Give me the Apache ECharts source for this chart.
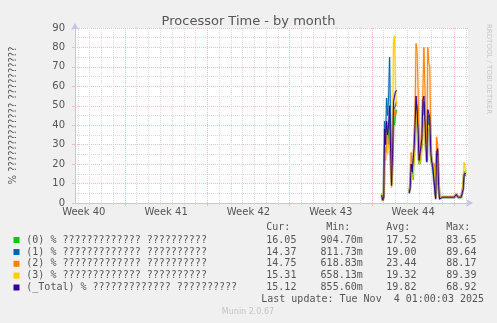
<!DOCTYPE html>
<html><head><meta charset="utf-8">
<script src="https://cdn.jsdelivr.net/npm/echarts@6/dist/echarts.min.js"></script>
<style>html,body{margin:0;padding:0;background:#f0f0f0;} #c{width:497px;height:323px;}</style>
</head><body><div id="c"></div>
<script>
// ---- data ----
const seriesNames = ['(0) % ????????????? ??????????', '(1) % ????????????? ??????????', '(2) % ????????????? ??????????', '(3) % ????????????? ??????????', '(_Total) % ????????????? ??????????'];
const seriesColors = ['#00cc00', '#0066b3', '#ff8000', '#ffcc00', '#330099'];
// sample times in hours since Mon of week 40, one sample each 2 hours from 692 to 864
const hourStart = 692, hourStep = 2;
const s0 = [5,2,4,30,26,40,30,35,45,25,10,20,45,40,45,48,
  null,null,null,null,null,null,null,null,null,null,null,null,
  5,8,18,14,12,25,35,50,45,30,22,20,21,30,45,50,48,30,22,40,42,40,25,20,19,19,18,3,20,25,10,3,
  3,3,3,3,3,3,3,3,3,3,3,3,3,3,3,3,4.5,4,3,3,3,3,3,8,16,16,16.05];
const s1 = [4,1,3,42,35,54,45,55,75,40,15,25,48,47,50,52,
  null,null,null,null,null,null,null,null,null,null,null,null,
  6,8,20,15,14,25,38,52,50,35,20,19,20,30,48,52,50,28,22,42,45,44,28,20,18,18,17,3,22,27,8,3,
  2.8,2.8,2.8,2.8,2.8,2.8,2.8,2.8,2.8,2.8,2.8,2.8,2.8,2.8,2.8,2.8,4,4,2.8,2.8,2.8,2.8,2.8,7,14,14.5,14.37];
const s2 = [3,1,3,25,22,35,28,30,38,22,8,22,50,45,48,46,
  null,null,null,null,null,null,null,null,null,null,null,null,
  6,10,26,20,22,32,47,82,78,60,35,23,22,40,58,80,80,40,28,80,72,70,35,21,20,20,20,3,34,30,12,2,
  3.2,3.2,3.2,3.2,3.2,3.2,3.2,3.2,3.2,3.2,3.2,3.2,3.2,3.2,3.2,3.2,5,4,3.2,3.2,3.2,3.2,3.2,8,15,15,14.75];
const s3 = [5,2,4,28,30,38,25,30,28,25,8,30,83,86,60,50,
  null,null,null,null,null,null,null,null,null,null,null,null,
  6,9,18,12,14,22,33,48,42,28,20,21,22,28,42,45,46,25,22,38,40,38,24,20,19,19,18,3,22,24,10,3,
  3,3,3,3,3,3,3,3,3,3,3,3,3,3,3,3,5,4,3,3,3,3,3,10,21,20,15.31];
const s4 = [4,1.5,3,38,30,42,35,40,50,28,9,25,52,55,57,58,
  null,null,null,null,null,null,null,null,null,null,null,null,
  5,8,20,16,17,28,40,55,54,38,22,21,21,33,53,55,54,30,21,48,46,44,26,21,19,18,18,2,26,28,9,2,
  3,3,3,3,3,3,3,3,3,3,3,3,3,3,3,3,4.5,4,3,3,3,3,3,7,15,15,15.12];
const seriesValues = [s0, s1, s2, s3, s4];
const weekLabels = ['Week 40', 'Week 41', 'Week 42', 'Week 43', 'Week 44'];
const weekCenters = [84, 252, 420, 588, 756];
const weekStarts = [168, 336, 504, 672, 840];
const legendHeader = ['Cur:', 'Min:', 'Avg:', 'Max:'];
const legendCur = ['16.05', '14.37', '14.75', '15.31', '15.12'];
const legendMin = ['904.70m', '811.73m', '618.83m', '658.13m', '855.60m'];
const legendAvg = ['17.52', '19.00', '23.44', '19.32', '19.82'];
const legendMax = ['83.65', '89.64', '88.17', '89.39', '68.92'];
const titleText = 'Processor Time - by month';
const yName = '% ????????????? ??????????';
const lastUpdate = 'Last update: Tue Nov  4 01:00:03 2025';

// ---- build ----
const dayLines = [];
for (let h = 72; h <= 864; h += 24) dayLines.push(h);
const xMin = 66, xMax = 868;
const majorCol = '#f0bcbc', minorCol = '#dadada', axisCol = '#c4c4ee';
const mono = '"DejaVu Sans Mono", monospace';
const sans = '"DejaVu Sans", sans-serif';

const series = [];
// faint anti-alias underlay, then crisp lines
seriesValues.forEach((vals, si) => series.push({
  type: 'line', xAxisIndex: 0, yAxisIndex: 0, silent: true,
  showSymbol: false, symbol: 'none', connectNulls: false, animation: false,
  lineStyle: { width: 2.6, color: seriesColors[si], opacity: 0.22 },
  data: vals.map((v, i) => [hourStart + i * hourStep, v])
}));
seriesValues.forEach((vals, si) => series.push({
  type: 'line', name: seriesNames[si], xAxisIndex: 0, yAxisIndex: 0,
  showSymbol: false, symbol: 'none', connectNulls: false, animation: false,
  lineStyle: { width: 1, color: seriesColors[si] }, itemStyle: { color: seriesColors[si] },
  data: vals.map((v, i) => [hourStart + i * hourStep, v])
}));

const graphic = [];
const rowY = [240, 252, 263.8, 275.6, 287.5];
const colX = [266.3, 320.6, 386.3, 446.3];
legendHeader.forEach((t, i) => graphic.push({ type: 'text', x: i === 1 ? 326.3 : colX[i], y: 227.7,
  style: { text: t, font: '10px ' + mono, fill: '#555', textVerticalAlign: 'middle' } }));
seriesNames.forEach((n, i) => {
  graphic.push({ type: 'rect', shape: { x: 13.5, y: rowY[i] - 3, width: 6, height: 6 }, style: { fill: seriesColors[i] } });
  graphic.push({ type: 'text', x: 26.3, y: rowY[i], style: { text: n, font: '10px ' + mono, fill: '#555', textVerticalAlign: 'middle' } });
  [legendCur, legendMin, legendAvg, legendMax].forEach((arr, c) => graphic.push({ type: 'text', x: colX[c], y: rowY[i],
    style: { text: arr[i], font: '10px ' + mono, fill: '#555', textVerticalAlign: 'middle' } }));
});
graphic.push({ type: 'text', x: 484, y: 299.6, style: { text: lastUpdate, font: '10px ' + mono, fill: '#555', textAlign: 'right', textVerticalAlign: 'middle' } });
graphic.push({ type: 'text', x: 248, y: 311.7, style: { text: 'Munin 2.0.67', font: '8px ' + sans, fill: '#c4c4c4', textAlign: 'center', textVerticalAlign: 'middle' } });
graphic.push({ type: 'text', x: 489, y: 24, rotation: -Math.PI / 2, style: { text: 'RRDTOOL / TOBI OETIKER', font: '7px ' + sans, fill: '#c8c8c8', textAlign: 'left', textVerticalAlign: 'middle' } });

const option = {
  backgroundColor: '#f0f0f0',
  animation: false,
  title: { text: titleText, left: 'center', top: 10, textStyle: { fontFamily: sans, fontSize: 13, fontWeight: 'normal', color: '#555' } },
  grid: { left: 67, right: 29, top: 28, bottom: 120, show: true, backgroundColor: '#ffffff', borderWidth: 0 },
  xAxis: [
    { type: 'value', position: 'bottom', min: xMin, max: xMax,
      axisLine: { show: true, lineStyle: { color: axisCol }, symbol: ['none', 'arrow'], symbolSize: [6, 7], symbolOffset: [0, 5] },
      axisTick: { show: true, customValues: dayLines, length: 2, lineStyle: { color: minorCol } },
      axisLabel: { show: false },
      splitLine: { show: true, lineStyle: { color: minorCol, type: [1, 1] } } },
    { type: 'value', position: 'bottom', min: xMin, max: xMax,
      axisLine: { show: false },
      axisTick: { show: true, customValues: weekStarts, length: 3, lineStyle: { color: majorCol } },
      axisLabel: { show: true, customValues: weekCenters, margin: 4, fontFamily: sans, fontSize: 10, color: '#555',
        formatter: v => weekLabels[weekCenters.indexOf(v)] || '' },
      splitLine: { show: true, lineStyle: { color: majorCol, type: [1, 1] } } }
  ],
  yAxis: [{ type: 'value', min: 0, max: 90, interval: 10,
    name: yName, nameLocation: 'middle', nameRotate: 90, nameGap: 57,
    nameTextStyle: { fontFamily: sans, fontSize: 10, color: '#555' },
    axisLine: { show: true, lineStyle: { color: axisCol }, symbol: ['none', 'arrow'], symbolSize: [6, 7], symbolOffset: [0, 5] },
    axisTick: { show: true, length: 3, lineStyle: { color: majorCol } },
    minorTick: { show: false, splitNumber: 2 },
    minorSplitLine: { show: true, lineStyle: { color: minorCol, type: [1, 1] } },
    axisLabel: { margin: 10, fontFamily: sans, fontSize: 10, color: '#555' },
    splitLine: { show: true, lineStyle: { color: majorCol, type: [1, 1] } } }],
  series: series,
  graphic: graphic
};
const chart = echarts.init(document.getElementById('c'), null, { renderer: 'canvas' });
chart.setOption(option);
</script></body></html>
